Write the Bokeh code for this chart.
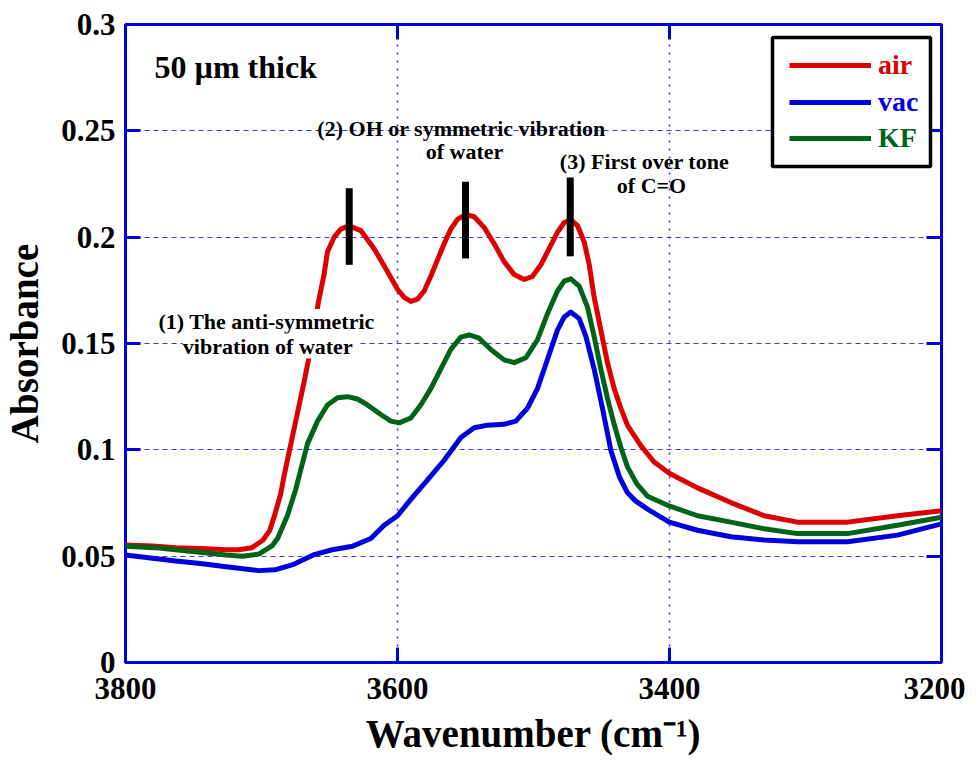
from bokeh.plotting import figure
from bokeh.models import (Range1d, FixedTicker, LinearAxis, Label, Legend, LegendItem,
                          BoxAnnotation)
from bokeh.embed import file_html
from bokeh.resources import INLINE

# ---------------- data ----------------
air_x = [3800, 3780, 3763, 3740, 3726, 3717, 3707, 3699, 3694, 3690, 3686, 3683, 3676,
         3669, 3664, 3658, 3654, 3651.5, 3646.6, 3641.7, 3635.5, 3627, 3617.2, 3607.4,
         3600, 3595.1, 3590.2, 3585.3, 3580.4, 3575.5, 3570.6, 3565.7, 3560.8, 3555.9,
         3549.8, 3543.6, 3536.3, 3528.9, 3521.6, 3514.2, 3506.8, 3500.7, 3494.6, 3488.5,
         3482.4, 3477.4, 3472.6, 3467.6, 3462.7, 3459.0, 3455.4, 3450.5, 3445.6, 3440.7,
         3435.8, 3430.9, 3421.1, 3411.3, 3400.2, 3379.4, 3354.9, 3330.4, 3305.9, 3269.1,
         3232.4, 3200]
air_y = [0.0553, 0.0548, 0.0540, 0.0535, 0.0530, 0.0530, 0.0540, 0.0575, 0.0620, 0.0700,
         0.0790, 0.0890, 0.1100, 0.1310, 0.1470, 0.1700, 0.1824, 0.1931, 0.2000, 0.2038,
         0.2054, 0.2031, 0.1946, 0.1839, 0.1755, 0.1717, 0.1698, 0.1709, 0.1747, 0.1816,
         0.1893, 0.1969, 0.2038, 0.2084, 0.2107, 0.2096, 0.2046, 0.1969, 0.1885, 0.1824,
         0.1801, 0.1816, 0.1870, 0.1946, 0.2023, 0.2069, 0.2081, 0.2054, 0.1977, 0.1870,
         0.1717, 0.1563, 0.1410, 0.1288, 0.1196, 0.1115, 0.1020, 0.0943, 0.0890, 0.0821,
         0.0752, 0.0690, 0.0660, 0.0660, 0.0690, 0.0714]

vac_x = [3800, 3780, 3763, 3745, 3726, 3712, 3702, 3690, 3677, 3662, 3648, 3633, 3619.6,
         3609.8, 3600, 3590.2, 3577.9, 3565.7, 3553.4, 3543.6, 3533.8, 3521.6, 3513,
         3504.4, 3497.1, 3489.7, 3482.4, 3477.4, 3472.6, 3466.4, 3461.5, 3455.4, 3449.3,
         3443.1, 3436.9, 3430.9, 3425, 3416.2, 3400.2, 3379.4, 3354.9, 3330.4, 3305.9,
         3269.1, 3232.4, 3200]
vac_y = [0.0505, 0.0490, 0.0477, 0.0465, 0.0450, 0.0440, 0.0432, 0.0436, 0.0460, 0.0506,
         0.0530, 0.0547, 0.0583, 0.0645, 0.0690, 0.0767, 0.0859, 0.0951, 0.1058, 0.1104,
         0.1116, 0.1120, 0.1135, 0.1196, 0.1288, 0.1426, 0.1563, 0.1625, 0.1648, 0.1617,
         0.1533, 0.1380, 0.1196, 0.0997, 0.0874, 0.0798, 0.0760, 0.0721, 0.0660, 0.0622,
         0.0591, 0.0576, 0.0568, 0.0568, 0.0599, 0.0652]

kf_x = [3800, 3775.5, 3751, 3726, 3714, 3702, 3692, 3688, 3681, 3675, 3666.2, 3658.8,
        3651.5, 3644.1, 3636.8, 3629.4, 3622.1, 3612.3, 3604.9, 3598.8, 3590.2, 3582.9,
        3575.5, 3568.2, 3560.8, 3553.4, 3547.3, 3540, 3531.4, 3521.6, 3514.2, 3505.6,
        3497.1, 3489.7, 3482.4, 3477.4, 3472.6, 3466.4, 3460.3, 3455.4, 3450.5, 3445.6,
        3440.7, 3435.8, 3430.9, 3424, 3416.2, 3400.2, 3379.4, 3354.9, 3330.4, 3305.9,
        3269.1, 3232.4, 3200]
kf_y = [0.0547, 0.0538, 0.0522, 0.0505, 0.0500, 0.0510, 0.0550, 0.0585, 0.0690, 0.0810,
        0.1028, 0.1135, 0.1211, 0.1245, 0.1250, 0.1239, 0.1211, 0.1166, 0.1135, 0.1127,
        0.1150, 0.1211, 0.1288, 0.1380, 0.1472, 0.1530, 0.1540, 0.1525, 0.1472, 0.1423,
        0.1410, 0.1433, 0.1517, 0.1640, 0.1747, 0.1793, 0.1804, 0.1770, 0.1671, 0.1533,
        0.1380, 0.1242, 0.1120, 0.1012, 0.0920, 0.0840, 0.0782, 0.0736, 0.0690, 0.0660,
        0.0629, 0.0606, 0.0606, 0.0645, 0.0683]

series_names = ["air", "vac", "KF"]
series_colors = ["#dd0000", "#0000dd", "#006418"]

# peak marker bars
bar_x = [3635.5, 3550, 3473]
bar_lo = [0.187, 0.190, 0.191]
bar_hi = [0.223, 0.226, 0.228]

x_ticks = [3800, 3600, 3400, 3200]
y_ticks = [0, 0.05, 0.1, 0.15, 0.2, 0.25, 0.3]
y_tick_labels = ["0", "0.05", "0.1", "0.15", "0.2", "0.25", "0.3"]

FONT = "Liberation Serif"
AXC = "#0000dd"
W, H = 816, 638

p = figure(frame_width=W, frame_height=H, output_backend="svg", toolbar_location=None,
           x_range=Range1d(3800, 3200), y_range=Range1d(0, 0.3),
           min_border_left=120, min_border_right=24, min_border_top=24, min_border_bottom=60,
           background_fill_color="white", border_fill_color="white")

p.outline_line_color = AXC
p.outline_line_width = 3

p.xaxis.ticker = FixedTicker(ticks=x_ticks)
p.yaxis.ticker = FixedTicker(ticks=y_ticks)
p.yaxis.major_label_overrides = {v: s for v, s in zip(y_ticks, y_tick_labels)}

for ax in (p.xaxis[0], p.yaxis[0]):
    ax.axis_line_color = None
    ax.major_tick_in = 15
    ax.major_tick_out = 0
    ax.major_tick_line_color = AXC
    ax.major_tick_line_width = 3
    ax.minor_tick_line_color = None
    ax.major_label_text_font = FONT
    ax.major_label_text_font_style = "bold"
    ax.major_label_text_font_size = "31px"
    ax.major_label_text_color = "black"
    ax.axis_label_text_font = FONT
    ax.axis_label_text_font_style = "bold"
    ax.axis_label_text_font_size = "39px"
    ax.axis_label_text_color = "black"

p.xaxis.axis_label = "Wavenumber (cm\u207b\u00b9)"
p.yaxis.axis_label = "Absorbance"
p.xaxis.major_label_standoff = 15
p.xaxis.axis_label_standoff = 10
p.yaxis.major_label_standoff = 10
p.yaxis.axis_label_standoff = 12

# mirror axes (ticks only, empty labels)
top_ax = LinearAxis(ticker=FixedTicker(ticks=x_ticks), axis_line_color=None,
                    major_tick_in=15, major_tick_out=0, major_tick_line_color=AXC,
                    major_tick_line_width=3, minor_tick_line_color=None,
                    major_label_overrides={v: "" for v in x_ticks},
                    major_label_text_font_size="1px", major_label_standoff=0)
right_ax = LinearAxis(ticker=FixedTicker(ticks=y_ticks), axis_line_color=None,
                      major_tick_in=15, major_tick_out=0, major_tick_line_color=AXC,
                      major_tick_line_width=3, minor_tick_line_color=None,
                      major_label_overrides={v: "" for v in y_ticks},
                      major_label_text_font_size="1px", major_label_standoff=0)
p.add_layout(top_ax, "above")
p.add_layout(right_ax, "right")

p.xgrid.grid_line_color = "#2b2bf0"
p.xgrid.grid_line_dash = "2 6"
p.xgrid.grid_line_width = 1.5
p.ygrid.grid_line_color = "#3a3ae8"
p.ygrid.grid_line_dash = "5 4"
p.ygrid.grid_line_width = 1

# curves
renderers = []
for xs, ys, c in ((air_x, air_y, series_colors[0]), (vac_x, vac_y, series_colors[1]),
                  (kf_x, kf_y, series_colors[2])):
    r = p.line(xs, ys, line_color=c, line_width=5, line_join="round")
    renderers.append(r)

# peak bars
p.segment(x0=bar_x, y0=bar_lo, x1=bar_x, y1=bar_hi, line_color="black", line_width=7,
          line_cap="butt")

# annotations
def lab(x, y, text, size, align="center", bg=None):
    kw = dict(x=x, y=y, text=text, text_font=FONT, text_font_style="bold",
              text_font_size=size, text_align=align, text_baseline="alphabetic",
              text_color="black")
    if bg:
        kw.update(background_fill_color=bg, background_fill_alpha=1.0)
    p.add_layout(Label(**kw))

lab(3778.7, 0.2802, "50 \u00b5m thick", "32px", align="left")
lab(3552.9, 0.2513, "(2) OH or symmetric vibration", "22px")
lab(3550.7, 0.2403, "of water", "22px")
lab(3418.4, 0.2357, "(3) First over tone", "22px")
lab(3413.2, 0.2242, "of C=O", "22px")
lab(3696.3, 0.1603, "(1) The anti-symmetric", "22px", bg="white")
lab(3693.4, 0.1488, "vibration of  water", "22px", bg="white")

# legend box + one legend per series (coloured labels)
box = BoxAnnotation(left=W - 169, right=W - 11, top=H - 13, bottom=H - 142,
                    left_units="screen", right_units="screen",
                    top_units="screen", bottom_units="screen",
                    fill_color="white", fill_alpha=1.0,
                    line_color="black", line_alpha=1.0, line_width=3.5)
p.add_layout(box)

row_centers = [H - 41, H - 78, H - 114]
for name, c, r, cy in zip(series_names, series_colors, renderers, row_centers):
    lg = Legend(items=[LegendItem(label=name, renderers=[r])],
                location=(W - 152, cy - 20), margin=0, padding=0, spacing=0,
                glyph_width=82, glyph_height=40, label_height=40, label_standoff=7,
                label_text_font=FONT, label_text_font_style="bold",
                label_text_font_size="28px", label_text_color=c,
                border_line_color=None, background_fill_alpha=0.0)
    p.add_layout(lg)

open("out.html", "w").write(file_html(p, INLINE))
